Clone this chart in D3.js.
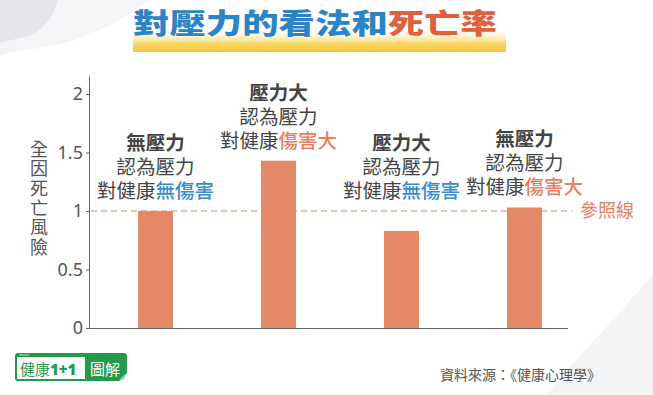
<!DOCTYPE html>
<html>
<head>
<meta charset="utf-8">
<script src="https://cdn.jsdelivr.net/npm/d3@7"></script>
<style>
  body { margin: 0; background: #fff; }
  text { font-family: "Noto Sans CJK TC", "Noto Sans", sans-serif; }
</style>
</head>
<body>
<div id="chart"></div>
<script>
// data
const groups = ["無壓力", "壓力大", "壓力大", "無壓力"];
const beliefs = ["無傷害", "傷害大", "無傷害", "傷害大"];
const risk = [1.0, 1.43, 0.83, 1.03];
const y_ticks = [0, 0.5, 1, 1.5, 2];
const reference_value = 1;

const width = 653;
const height = 395;
const blue = "#3b8bcb";
const orange = "#e5805e";
const bar_color = "#e38968";
const grey_text = "#444";

const svg = d3.select("#chart")
    .append("svg")
    .attr("width", width)
    .attr("height", height);

// soft background shapes
svg.append("path")
    .attr("d", "M0,0 L58,0 C52,22 40,36 12,40 C6,41 2,42 0,44 Z")
    .attr("fill", "#e4e6ea");
svg.append("path")
    .attr("d", "M58,0 L150,0 C120,20 90,40 40,48 C25,50 10,52 0,56 L0,44 C2,42 6,41 12,40 C40,36 52,22 58,0 Z")
    .attr("fill", "#f4f5f7");
svg.append("path")
    .attr("d", "M545,395 L653,275 L653,395 Z")
    .attr("fill", "#f3f4f6");

// title with yellow highlight
const defs = svg.append("defs");
const grad = defs.append("linearGradient")
    .attr("id", "hl")
    .attr("x1", 0).attr("y1", 0).attr("x2", 0).attr("y2", 1);
grad.append("stop").attr("offset", "0%").attr("stop-color", "#fdf3c8").attr("stop-opacity", 0.2);
grad.append("stop").attr("offset", "60%").attr("stop-color", "#f9d867");
grad.append("stop").attr("offset", "100%").attr("stop-color", "#f4c53a");

svg.append("rect")
    .attr("x", 133).attr("y", 31)
    .attr("width", 373).attr("height", 21)
    .attr("fill", "url(#hl)");

const title = svg.append("text")
    .attr("transform", "translate(315,34) scale(1.3,1)")
    .attr("text-anchor", "middle")
    .attr("font-size", 28)
    .attr("font-weight", 900)
    .attr("stroke", "#fff")
    .attr("stroke-width", 0.6)
    .attr("paint-order", "stroke");
title.append("tspan").attr("fill", "#2c84c4").text("對壓力的看法和");
title.append("tspan").attr("fill", "#e0603e").text("死亡率");

// scales
const x = d3.scaleBand()
    .domain(d3.range(groups.length))
    .range([94, 586])
    .paddingInner(0.715)
    .paddingOuter(0.3575);

const y = d3.scaleLinear()
    .domain([0, 2])
    .range([328, 94]);

// y axis
const yAxis = svg.append("g")
    .attr("transform", "translate(90,0)")
    .call(d3.axisLeft(y)
        .tickValues(y_ticks)
        .tickSize(4)
        .tickPadding(3)
        .tickFormat(d3.format("~g")));
yAxis.select(".domain")
    .attr("d", "M-0.5," + y(2.15) + "V" + y(0))
    .attr("stroke", "#666");
yAxis.selectAll(".tick line").attr("stroke", "#666");
yAxis.selectAll(".tick text")
    .attr("fill", "#555")
    .attr("font-size", 18)
    .style("font-family", "'Noto Sans', sans-serif");

// x axis baseline
svg.append("line")
    .attr("x1", 90).attr("x2", 568)
    .attr("y1", y(0) + 0.5).attr("y2", y(0) + 0.5)
    .attr("stroke", "#666")
    .attr("stroke-width", 1.2);

// y axis title, written vertically
svg.append("text")
    .attr("x", 39)
    .attr("y", 140)
    .attr("font-size", 18)
    .attr("fill", "#555")
    .style("writing-mode", "vertical-rl")
    .style("letter-spacing", "1.6px")
    .text("全因死亡風險");

// reference line
svg.append("line")
    .attr("x1", 91).attr("x2", 572)
    .attr("y1", y(reference_value)).attr("y2", y(reference_value))
    .attr("stroke", "#e4866a")
    .attr("stroke-width", 1.2)
    .attr("stroke-dasharray", "6,4");
svg.append("text")
    .attr("x", 580)
    .attr("y", y(reference_value) + 6)
    .attr("font-size", 18)
    .attr("fill", orange)
    .text("參照線");

// bars
svg.append("g")
    .selectAll("rect")
    .data(risk)
    .join("rect")
    .attr("x", (d, i) => x(i))
    .attr("y", d => y(d))
    .attr("width", x.bandwidth())
    .attr("height", d => y(0) - y(d))
    .attr("fill", bar_color);

// labels above bars
const labels = svg.append("g")
    .selectAll("text")
    .data(risk)
    .join("text")
    .attr("text-anchor", "middle")
    .attr("font-size", 19.5)
    .attr("fill", grey_text);

labels.each(function(d, i) {
    const cx = x(i) + x.bandwidth() / 2;
    const last = Math.min(y(d), y(reference_value)) - 20 + 7;
    const t = d3.select(this);
    t.append("tspan")
        .attr("x", cx).attr("y", last - 48)
        .attr("font-weight", "bold")
        .text(groups[i]);
    t.append("tspan")
        .attr("x", cx).attr("y", last - 24)
        .text("認為壓力");
    t.append("tspan")
        .attr("x", cx).attr("y", last)
        .text("對健康");
    t.append("tspan")
        .attr("font-weight", 500)
        .attr("fill", beliefs[i] === "無傷害" ? blue : orange)
        .text(beliefs[i]);
});

// source
svg.append("text")
    .attr("x", 440)
    .attr("y", 380)
    .attr("font-size", 14)
    .attr("fill", "#555")
    .text("資料來源：《健康心理學》");

// logo
const logo = svg.append("g").attr("transform", "translate(15,353)");
logo.append("rect")
    .attr("width", 112).attr("height", 28).attr("rx", 3)
    .attr("fill", "#23994a");
logo.append("rect")
    .attr("x", 2).attr("y", 4).attr("width", 68).attr("height", 22)
    .attr("fill", "#fff");
logo.append("text")
    .attr("x", 4).attr("y", 2.8)
    .attr("font-size", 2.6)
    .attr("fill", "#fff")
    .text("HEALTH");
const logoText = logo.append("text")
    .attr("x", 5).attr("y", 21.5)
    .attr("font-size", 15)
    .attr("fill", "#23994a");
logoText.append("tspan").text("健康");
logoText.append("tspan")
    .attr("font-weight", 900)
    .style("font-family", "'Noto Sans', sans-serif")
    .text("1+1");
logo.append("text")
    .attr("x", 75).attr("y", 21.5)
    .attr("font-size", 15)
    .attr("fill", "#fff")
    .text("圖解");
logo.append("path")
    .attr("d", "M112,20 L112,28 L104,28 Z")
    .attr("fill", "#fff");
logo.append("path")
    .attr("d", "M104,28 C106,24 109,22 112,20 L109,26 Z")
    .attr("fill", "#8fd19e");
</script>
</body>
</html>
